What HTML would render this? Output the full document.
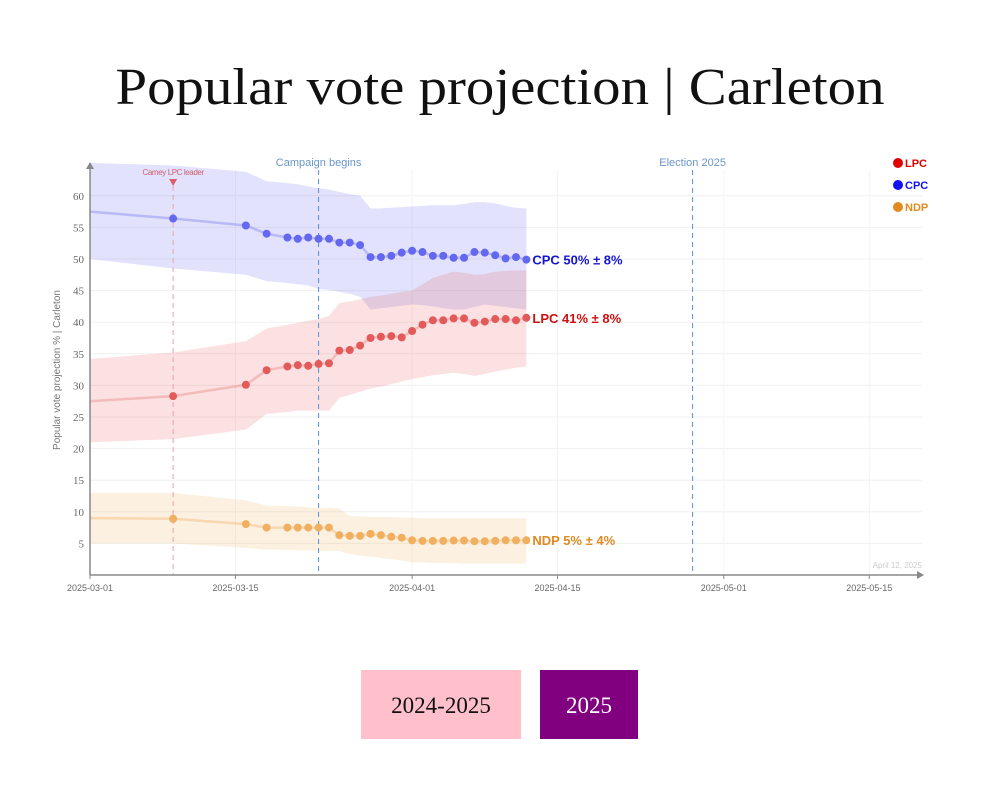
<!DOCTYPE html>
<html><head><meta charset="utf-8"><style>
html,body{margin:0;padding:0;background:#fff;width:1000px;height:795px;overflow:hidden}
svg{display:block}
</style></head><body>
<svg id="chart" width="1000" height="795" viewBox="0 0 1000 795" xmlns="http://www.w3.org/2000/svg" font-family="'Liberation Sans', sans-serif">
<text x="500" y="104" text-anchor="middle" font-family="'Liberation Serif', serif" font-size="52" textLength="769" lengthAdjust="spacingAndGlyphs" fill="#111">Popular vote projection | Carleton</text>
<g id="grid"></g>
<g id="bands"></g>
<g id="refs"></g>
<g id="series"></g>
<g id="axes"></g>
<g font-size="11" font-weight="bold">
  <circle cx="898" cy="163" r="5" fill="#e00000"/>
  <text x="905" y="167" fill="#e00000">LPC</text>
  <circle cx="898" cy="185" r="5" fill="#1010f0"/>
  <text x="905" y="189" fill="#1010f0">CPC</text>
  <circle cx="898" cy="207" r="5" fill="#e08a20"/>
  <text x="905" y="211" fill="#e08a20">NDP</text>
</g>
<text x="922" y="568" text-anchor="end" font-size="8" fill="#ccc">April 12, 2025</text>
<g>
  <rect x="361" y="670" width="160" height="69" fill="#ffc0cb"/>
  <text x="441" y="713" text-anchor="middle" font-family="'Liberation Serif', serif" font-size="23" fill="#111">2024-2025</text>
</g>
<g>
  <rect x="540" y="670" width="98" height="69" fill="#800080"/>
  <text x="589" y="713" text-anchor="middle" font-family="'Liberation Serif', serif" font-size="23" fill="#fff">2025</text>
</g>
</svg>
<script>
// days since 2025-03-01
const days = [0,8,15,17,19,20,21,22,23,24,25,26,27,28,29,30,31,32,33,34,35,36,37,38,39,40,41,42];
const cpcValues = [57.5,56.4,55.3,54.0,53.4,53.2,53.4,53.2,53.2,52.6,52.6,52.2,50.3,50.3,50.5,51.0,51.3,51.1,50.5,50.5,50.2,50.2,51.1,51.0,50.6,50.1,50.3,49.9];
const lpcValues = [27.5,28.3,30.1,32.4,33.0,33.2,33.1,33.4,33.5,35.5,35.6,36.3,37.5,37.7,37.8,37.6,38.6,39.6,40.3,40.3,40.6,40.6,39.9,40.1,40.5,40.5,40.3,40.7];
const ndpValues = [9.0,8.9,8.05,7.5,7.5,7.5,7.5,7.5,7.5,6.3,6.2,6.2,6.5,6.3,6.05,5.9,5.5,5.4,5.4,5.4,5.45,5.45,5.35,5.35,5.4,5.5,5.5,5.5];
const cpcUpper = [65.2,64.8,63.8,62.3,62.0,61.8,61.5,61.2,61.0,60.6,60.3,60.0,58.0,58.0,58.1,58.2,58.3,58.4,58.5,58.5,58.5,58.7,59.0,59.0,58.8,58.4,58.1,58.0];
const cpcLower = [50.0,48.5,47.5,46.5,46.2,46.0,45.8,45.3,45.1,44.8,44.5,44.0,42.0,42.2,42.4,42.6,42.8,42.7,42.5,42.2,42.0,42.0,42.4,42.8,42.6,42.4,42.2,42.0];
const lpcUpper = [34.2,35.2,37.0,39.0,39.6,39.9,40.2,40.5,41.0,43.0,43.3,43.6,44.0,44.2,44.5,44.8,45.0,46.0,47.0,47.5,48.0,47.8,47.5,47.6,48.0,48.1,48.2,48.2];
const lpcLower = [21.0,21.5,23.0,25.5,25.8,26.0,26.0,26.0,26.0,28.0,28.5,29.0,29.5,29.8,30.2,30.6,31.0,31.3,31.6,31.8,32.0,31.8,31.5,31.8,32.2,32.5,32.8,33.0];
const ndpUpper = [13.0,13.0,11.8,11.0,10.9,10.8,10.7,10.6,10.6,10.5,9.3,9.3,9.2,9.2,9.2,9.1,9.1,9.0,9.0,9.0,9.0,9.0,9.0,9.0,9.0,9.0,9.0,9.0];
const ndpLower = [5.0,5.0,4.3,4.0,4.0,3.9,3.9,3.8,3.8,3.8,3.3,3.1,2.9,2.7,2.5,2.3,2.0,2.0,1.9,1.9,1.9,1.8,1.8,1.8,1.8,1.8,1.8,1.8];
const yTicks = [5,10,15,20,25,30,35,40,45,50,55,60];
const xTickDays = [0,14,31,45,61,75];
const xTickLabels = ["2025-03-01","2025-03-15","2025-04-01","2025-04-15","2025-05-01","2025-05-15"];
const carneyDay = 8, campaignDay = 22, electionDay = 58;

const NS = "http://www.w3.org/2000/svg";
const x = d => 90 + d * 10.39;
const y = v => 575 - v * 6.32;
function mk(parent, tag, attrs, text) {
  const el = document.createElementNS(NS, tag);
  for (const k in attrs) el.setAttribute(k, attrs[k]);
  if (text !== undefined) el.textContent = text;
  document.getElementById(parent).appendChild(el);
  return el;
}
yTicks.forEach(t => {
  const g = mk("grid", "line", {x1: 90, x2: 922, y1: y(t), y2: y(t), stroke: "#f0f0f0", "stroke-width": 1});
  
  
  const l = mk("axes", "text", {x: 84, y: y(t) + 4, "text-anchor": "end", "font-size": 11, fill: "#666", "font-family": "'Liberation Serif', serif"}, String(t));
  
  
});
xTickDays.forEach((d, i) => {
  const g = mk("grid", "line", {x1: x(d), x2: x(d), y1: 170, y2: 575, stroke: "#f4f4f4", "stroke-width": 1});
  
  
  const tk = mk("axes", "line", {x1: x(d), x2: x(d), y1: 575, y2: 579, stroke: "#888"});
  
  
  const l = mk("axes", "text", {x: x(d), y: 591, "text-anchor": "middle", "font-size": 9, fill: "#666"}, xTickLabels[i]);
  
  
});
function band(up, lo, fill, name) {
  let d = "M" + days.map((dd, i) => x(dd) + "," + y(up[i])).join("L");
  for (let i = days.length - 1; i >= 0; i--) d += "L" + x(days[i]) + "," + y(lo[i]);
  const p = mk("bands", "path", {d: d + "Z", fill: fill});
  
  
}
band(cpcUpper, cpcLower, "rgba(110,110,240,0.2)", "cpc-band");
band(lpcUpper, lpcLower, "rgba(235,90,90,0.18)", "lpc-band");
band(ndpUpper, ndpLower, "rgba(240,170,90,0.18)", "ndp-band");
const r1 = mk("refs", "line", {x1: x(carneyDay), x2: x(carneyDay), y1: 186, y2: 575, stroke: "#f0a0b0", "stroke-dasharray": "5,4", "stroke-width": 1});


const r1m = mk("refs", "path", {d: `M${x(carneyDay)-4},179 L${x(carneyDay)+4},179 L${x(carneyDay)},186 Z`, fill: "#e05a6a"});


const r1t = mk("refs", "text", {x: x(carneyDay), y: 175, "text-anchor": "middle", "font-size": 8, fill: "#d06070", "letter-spacing": "-0.4"}, "Carney LPC leader");


const r2 = mk("refs", "line", {x1: x(campaignDay), x2: x(campaignDay), y1: 170, y2: 575, stroke: "#5b8fd0", "stroke-dasharray": "5,4", "stroke-width": 1});


const r2t = mk("refs", "text", {x: x(campaignDay), y: 166, "text-anchor": "middle", "font-size": 11, fill: "#6a96c8"}, "Campaign begins");


const r3 = mk("refs", "line", {x1: x(electionDay), x2: x(electionDay), y1: 170, y2: 575, stroke: "#5b8fd0", "stroke-dasharray": "5,4", "stroke-width": 1});


const r3t = mk("refs", "text", {x: x(electionDay), y: 166, "text-anchor": "middle", "font-size": 11, fill: "#6a96c8"}, "Election 2025");


function series(vals, line, dot, name, label, lcol) {
  const pl = mk("series", "polyline", {points: days.map((d, i) => x(d) + "," + y(vals[i])).join(" "), fill: "none", stroke: line, "stroke-width": 2.5});
  
  
  days.forEach((d, i) => {
    if (i === 0) return;
    const c = mk("series", "circle", {cx: x(d), cy: y(vals[i]), r: 4, fill: dot});
    
    
  });
  const last = vals.length - 1;
  const t = mk("series", "text", {x: x(days[last]) + 6, y: y(vals[last]) + 5, "font-size": 13, "font-weight": "bold", fill: lcol}, label);
  
  
}
series(cpcValues, "rgba(110,110,240,0.35)", "#6468f0", "cpc", "CPC 50% ± 8%", "#1515d0");
series(lpcValues, "rgba(230,100,100,0.3)", "#e25a5a", "lpc", "LPC 41% ± 8%", "#d01010");
series(ndpValues, "rgba(240,170,90,0.35)", "#f0b060", "ndp", "NDP 5% ± 4%", "#e08a20");
const ya = mk("axes", "line", {x1: 90, x2: 90, y1: 168, y2: 575, stroke: "#888", "stroke-width": 1.5});


const yar = mk("axes", "path", {d: "M86,169 L94,169 L90,162 Z", fill: "#888"});


const xa = mk("axes", "line", {x1: 90, x2: 918, y1: 575, y2: 575, stroke: "#888", "stroke-width": 1.5});


const xar = mk("axes", "path", {d: "M917,571 L917,579 L924,575 Z", fill: "#888"});


const yt = mk("axes", "text", {x: 0, y: 0, transform: "translate(60,370) rotate(-90)", "text-anchor": "middle", "font-size": 10, fill: "#777"}, "Popular vote projection % | Carleton");


</script>
</body></html>
